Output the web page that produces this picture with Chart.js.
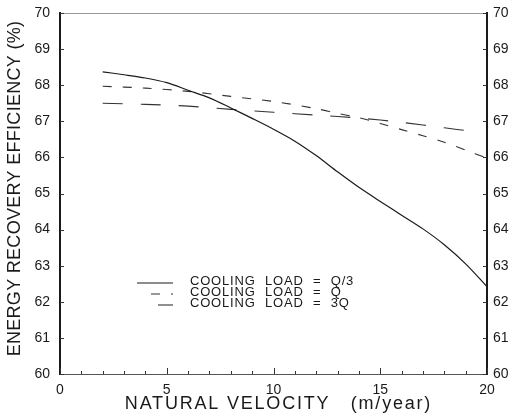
<!DOCTYPE html>
<html lang="en">
<head>
    <meta charset="UTF-8">
    <title>Energy recovery efficiency</title>
    <script src="https://cdn.jsdelivr.net/npm/chart.js"></script>
    <style>
        body { margin: 0; background: #fff; }
        canvas { display: block; }
    </style>
</head>
<body>
<canvas id="effChart" width="516" height="416"></canvas>
<script>
    // values
    const velocityQ3 = [2, 3, 4, 5, 6, 7, 8, 9, 10, 11, 12, 13, 14, 15, 16, 17, 18, 19, 20];
    const effQ3 = [68.37, 68.29, 68.2, 68.07, 67.86, 67.65, 67.37, 67.08, 66.78, 66.45, 66.05, 65.6, 65.17, 64.78, 64.4, 64.02, 63.58, 63.05, 62.42];

    const velocityQ = [2, 4, 6, 8, 10, 12, 13, 14, 15, 16, 17, 18, 19, 20];
    const effQ = [67.97, 67.92, 67.83, 67.69, 67.55, 67.35, 67.22, 67.1, 66.94, 66.77, 66.6, 66.42, 66.2, 65.98];

    const velocity3Q = [2, 4, 6, 8, 10, 12, 14, 16, 18, 19.2];
    const eff3Q = [67.5, 67.47, 67.42, 67.33, 67.25, 67.17, 67.09, 66.97, 66.82, 66.73];

    const seriesLabels = ["COOLING LOAD = Q/3", "COOLING LOAD = Q", "COOLING LOAD = 3Q"];
    const xTitle = "NATURAL VELOCITY   (m/year)";
    const yTitle = "ENERGY RECOVERY EFFICIENCY (%)";

    const ink = "#1a1a1a";
    const tickFont = { family: "Liberation Sans", size: 14 };

    function points(xs, ys) {
        return xs.map((x, i) => ({ x: x, y: ys[i] }));
    }

    // keep the plot box where the figure has it
    function fixWidth(w) {
        return s => {
            s.width = w;
            s.paddingTop = 0;
            s.paddingBottom = 0;
        };
    }

    // inward tick marks, axis titles and the legend inside the plot
    const decor = {
        id: "decor",
        afterDraw(chart) {
            const { ctx, chartArea, scales } = chart;
            ctx.save();

            ctx.strokeStyle = "#333";
            ctx.lineWidth = 1;
            ctx.beginPath();
            scales.x.ticks.forEach(t => {
                const px = Math.round(scales.x.getPixelForValue(t.value)) + 0.5;
                const len = t.value % 5 === 0 ? 6 : 3;
                ctx.moveTo(px, chartArea.bottom);
                ctx.lineTo(px, chartArea.bottom - len);
            });
            scales.y.ticks.forEach(t => {
                const py = Math.round(scales.y.getPixelForValue(t.value)) + 0.5;
                ctx.moveTo(chartArea.left, py);
                ctx.lineTo(chartArea.left + 4, py);
                ctx.moveTo(chartArea.right, py);
                ctx.lineTo(chartArea.right - 4, py);
            });
            ctx.stroke();

            ctx.fillStyle = ink;
            ctx.textAlign = "center";
            ctx.textBaseline = "middle";
            ctx.font = '18px "Liberation Sans"';
            ctx.letterSpacing = "1.8px";
            ctx.fillText(xTitle, (chartArea.left + chartArea.right) / 2 + 5, 404);
            ctx.save();
            ctx.font = '18px "Liberation Sans"';
            ctx.letterSpacing = "0.3px";
            ctx.translate(15, (chartArea.top + chartArea.bottom) / 2 - 5);
            ctx.rotate(-Math.PI / 2);
            ctx.fillText(yTitle, 0, 0);
            ctx.restore();

            const rows = [281, 292, 303];
            const lineStart = [137, 151, 158];
            ctx.font = '13px "Liberation Sans"';
            ctx.letterSpacing = "0.8px";
            ctx.wordSpacing = "5px";
            ctx.textAlign = "left";
            chart.data.datasets.forEach((ds, i) => {
                ctx.beginPath();
                ctx.setLineDash(ds.borderDash || []);
                ctx.lineWidth = ds.borderWidth;
                ctx.strokeStyle = ds.borderColor;
                ctx.moveTo(lineStart[i], rows[i] + 2);
                ctx.lineTo(173, rows[i] + 2);
                ctx.stroke();
                ctx.fillText(ds.label, 190, rows[i]);
            });
            ctx.restore();
        }
    };

    const ctx = document.getElementById("effChart").getContext("2d");
    const effChart = new Chart(ctx, {
        type: "line",
        data: {
            datasets: [
                {
                    label: seriesLabels[0],
                    data: points(velocityQ3, effQ3),
                    borderColor: ink,
                    borderWidth: 1.2,
                    tension: 0.3
                },
                {
                    label: seriesLabels[1],
                    data: points(velocityQ, effQ),
                    borderColor: "#333",
                    borderWidth: 1.1,
                    borderDash: [9, 11],
                    tension: 0.3
                },
                {
                    label: seriesLabels[2],
                    data: points(velocity3Q, eff3Q),
                    borderColor: "#333",
                    borderWidth: 1.1,
                    borderDash: [20, 18],
                    tension: 0.3
                }
            ]
        },
        options: {
            responsive: false,
            animation: false,
            layout: { padding: { top: 13 } },
            elements: { point: { radius: 0 } },
            plugins: {
                legend: { display: false },
                tooltip: { enabled: false }
            },
            scales: {
                x: {
                    type: "linear",
                    position: "bottom",
                    min: 0,
                    max: 20,
                    ticks: {
                        stepSize: 1,
                        autoSkip: false,
                        maxRotation: 0,
                        padding: 8,
                        color: ink,
                        font: tickFont,
                        callback: v => (v % 5 === 0 ? v : "")
                    },
                    grid: { drawOnChartArea: false, drawTicks: false },
                    border: { color: "#555", width: 1 },
                    afterFit: s => { s.height = 42; }
                },
                xTop: {
                    type: "linear",
                    position: "top",
                    min: 0,
                    max: 20,
                    ticks: { display: false },
                    grid: { drawOnChartArea: false, drawTicks: false },
                    border: { color: "#999", width: 1 },
                    afterFit: s => { s.height = 0; }
                },
                y: {
                    position: "left",
                    min: 60,
                    max: 70,
                    ticks: { stepSize: 1, padding: 10, color: ink, font: tickFont },
                    grid: { drawOnChartArea: false, drawTicks: false },
                    border: { color: ink, width: 2 },
                    afterFit: fixWidth(60)
                },
                y2: {
                    position: "right",
                    min: 60,
                    max: 70,
                    ticks: { stepSize: 1, padding: 6, color: ink, font: tickFont },
                    grid: { drawOnChartArea: false, drawTicks: false },
                    border: { color: ink, width: 2 },
                    afterFit: fixWidth(29)
                }
            }
        },
        plugins: [decor]
    });
</script>
</body>
</html>
